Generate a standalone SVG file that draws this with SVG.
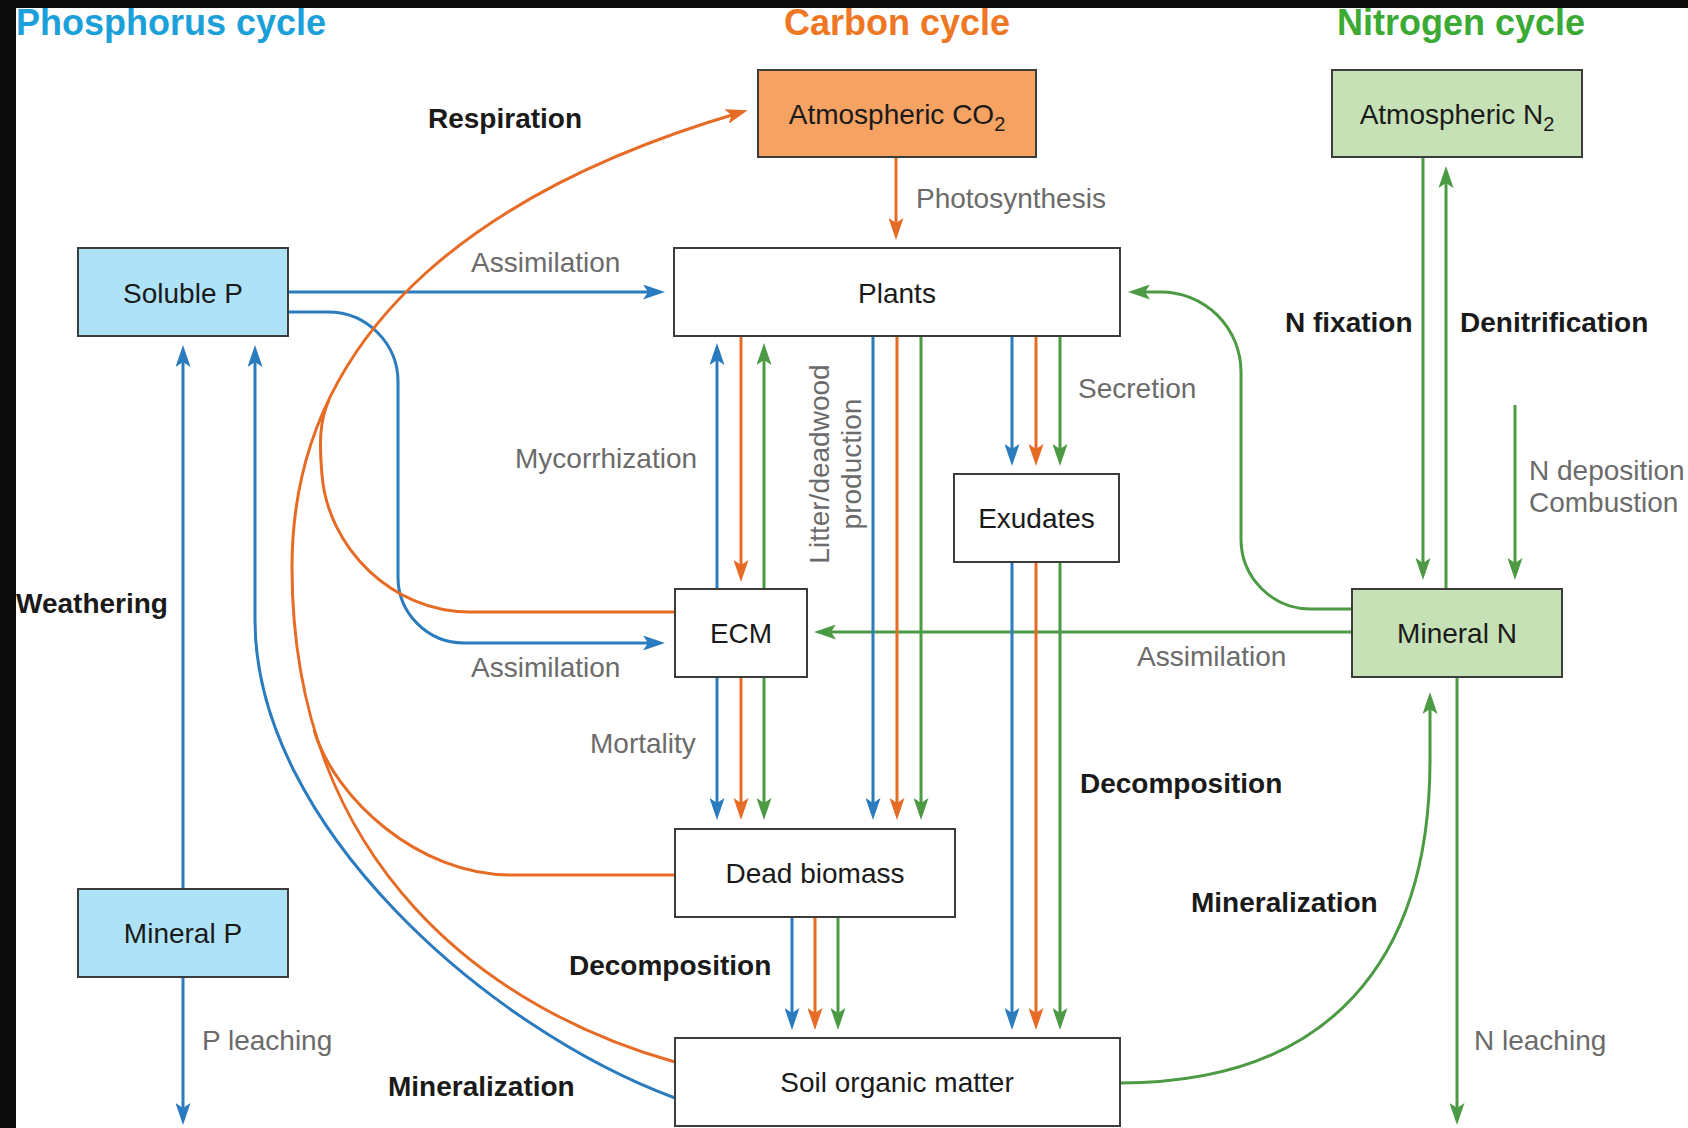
<svg xmlns="http://www.w3.org/2000/svg" width="1688" height="1128" viewBox="0 0 1688 1128">
<defs>
<style>
.box{stroke:#3c3c3c;stroke-width:2}
.lb{font-family:"Liberation Sans",Arial,sans-serif;font-size:28px;fill:#1a1a1a;text-anchor:middle}
.g{font-family:"Liberation Sans",Arial,sans-serif;font-size:28px;fill:#6b6b6b}
.k{font-family:"Liberation Sans",Arial,sans-serif;font-size:28px;font-weight:bold;fill:#1a1a1a}
.t{font-family:"Liberation Sans",Arial,sans-serif;font-size:36px;font-weight:bold}
.b{stroke:#2b7bbf;fill:none;stroke-width:3}
.o{stroke:#e66b25;fill:none;stroke-width:3}
.n{stroke:#4c9a43;fill:none;stroke-width:3}
.b.a{marker-end:url(#mb)}
.o.a{marker-end:url(#mo)}
.n.a{marker-end:url(#mn)}
</style>
<marker id="mb" viewBox="0 0 22 15" refX="16" refY="7.5" markerWidth="22" markerHeight="15" orient="auto" markerUnits="userSpaceOnUse"><path d="M0,0 L22,7.5 L0,15 L5,7.5 z" fill="#2b7bbf"/></marker>
<marker id="mo" viewBox="0 0 22 15" refX="16" refY="7.5" markerWidth="22" markerHeight="15" orient="auto" markerUnits="userSpaceOnUse"><path d="M0,0 L22,7.5 L0,15 L5,7.5 z" fill="#e66b25"/></marker>
<marker id="mn" viewBox="0 0 22 15" refX="16" refY="7.5" markerWidth="22" markerHeight="15" orient="auto" markerUnits="userSpaceOnUse"><path d="M0,0 L22,7.5 L0,15 L5,7.5 z" fill="#4c9a43"/></marker>
</defs>
<rect x="0" y="0" width="1688" height="1128" fill="#ffffff"/>
<rect x="0" y="0" width="1688" height="8" fill="#0c0c0c"/>
<rect x="0" y="0" width="16" height="1128" fill="#0c0c0c"/>

<g id="titles">
<text class="t" x="16" y="35" fill="#1ba0da">Phosphorus cycle</text>
<text class="t" x="897" y="35" fill="#ef7622" text-anchor="middle">Carbon cycle</text>
<text class="t" x="1461" y="35" fill="#3aaa35" text-anchor="middle">Nitrogen cycle</text>
</g>

<g id="connectors">
<!-- phosphorus -->
<path class="b a" d="M288,292 H659"/>
<path class="b a" d="M288,312 H328 A70,70 0 0 1 398,382 V577 A66,66 0 0 0 464,643 H659"/>
<path class="b a" d="M183,889 V351"/>
<path class="b a" d="M675,1098 C488,1029 255,825 255,620 V351"/>
<path class="b a" d="M183,977 V1119"/>
<!-- carbon -->
<path class="o a" d="M896,157 V234"/>
<path class="o a" d="M675,1062 C495,1011.6 292,870 292,567 C292,317 502,182 742,112"/>
<path class="o" d="M675,612 H470 C392,612 328,548 322,475 C319,440 320,420 329,400"/>
<path class="o" d="M675,875 H510 C420,875 335,800 314,730"/>
<!-- nitrogen -->
<path class="n a" d="M1352,609 H1311 A70,70 0 0 1 1241,539 V372 A80,80 0 0 0 1161,292 H1134"/>
<path class="n a" d="M1352,632 H820"/>
<path class="n a" d="M1423,157 V574"/>
<path class="n a" d="M1446,589 V172"/>
<path class="n a" d="M1515,405 V574"/>
<path class="n a" d="M1457,677 V1119"/>
<path class="n a" d="M1120,1083 C1330,1083 1430,960 1430,760 V698"/>
<!-- Mycorrhization -->
<path class="b a" d="M717,589 V349"/>
<path class="o a" d="M741,336 V576"/>
<path class="n a" d="M764,589 V349"/>
<!-- Mortality -->
<path class="b a" d="M717,677 V814"/>
<path class="o a" d="M741,677 V814"/>
<path class="n a" d="M764,677 V814"/>
<!-- Litter -->
<path class="b a" d="M873,336 V814"/>
<path class="o a" d="M897,336 V814"/>
<path class="n a" d="M921,336 V814"/>
<!-- Secretion -->
<path class="b a" d="M1012,336 V460"/>
<path class="o a" d="M1036,336 V460"/>
<path class="n a" d="M1060,336 V460"/>
<!-- Exudates decomposition -->
<path class="b a" d="M1012,562 V1024"/>
<path class="o a" d="M1036,562 V1024"/>
<path class="n a" d="M1060,562 V1024"/>
<!-- Dead biomass decomposition -->
<path class="b a" d="M792,917 V1024"/>
<path class="o a" d="M815,917 V1024"/>
<path class="n a" d="M838,917 V1024"/>
</g>

<g id="labels">
<text class="k" x="428" y="128">Respiration</text>
<text class="g" x="916" y="208">Photosynthesis</text>
<text class="g" x="471" y="272">Assimilation</text>
<text class="g" x="515" y="468">Mycorrhization</text>
<text class="g" x="471" y="677">Assimilation</text>
<text class="g" x="590" y="753">Mortality</text>
<text class="g" x="1078" y="398">Secretion</text>
<text class="g" x="1137" y="666">Assimilation</text>
<text class="g" transform="translate(829,464) rotate(-90)" text-anchor="middle" font-size="30">Litter/deadwood</text>
<text class="g" transform="translate(861,464) rotate(-90)" text-anchor="middle" font-size="30">production</text>
<text class="k" x="16" y="613">Weathering</text>
<text class="g" x="202" y="1050">P leaching</text>
<text class="k" x="388" y="1096">Mineralization</text>
<text class="k" x="569" y="975">Decomposition</text>
<text class="k" x="1080" y="793">Decomposition</text>
<text class="k" x="1191" y="912">Mineralization</text>
<text class="k" x="1285" y="332">N fixation</text>
<text class="k" x="1460" y="332">Denitrification</text>
<text class="g" x="1529" y="480">N deposition</text>
<text class="g" x="1529" y="512">Combustion</text>
<text class="g" x="1474" y="1050">N leaching</text>
</g>

<g id="atm-co2"><rect class="box" x="758" y="70" width="278" height="87" fill="#f6a263"/><text class="lb" x="897" y="124">Atmospheric CO<tspan dy="7" font-size="20">2</tspan></text></g>
<g id="atm-n2"><rect class="box" x="1332" y="70" width="250" height="87" fill="#c6e1b6"/><text class="lb" x="1457" y="124">Atmospheric N<tspan dy="7" font-size="20">2</tspan></text></g>
<g id="soluble-p"><rect class="box" x="78" y="248" width="210" height="88" fill="#aee3f7"/><text class="lb" x="183" y="303">Soluble P</text></g>
<g id="plants"><rect class="box" x="674" y="248" width="446" height="88" fill="#ffffff"/><text class="lb" x="897" y="303">Plants</text></g>
<g id="exudates"><rect class="box" x="954" y="474" width="165" height="88" fill="#ffffff"/><text class="lb" x="1036.5" y="528">Exudates</text></g>
<g id="ecm"><rect class="box" x="675" y="589" width="132" height="88" fill="#ffffff"/><text class="lb" x="741" y="643">ECM</text></g>
<g id="mineral-n"><rect class="box" x="1352" y="589" width="210" height="88" fill="#c6e1b6"/><text class="lb" x="1457" y="643">Mineral N</text></g>
<g id="dead-biomass"><rect class="box" x="675" y="829" width="280" height="88" fill="#ffffff"/><text class="lb" x="815" y="883">Dead biomass</text></g>
<g id="mineral-p"><rect class="box" x="78" y="889" width="210" height="88" fill="#aee3f7"/><text class="lb" x="183" y="943">Mineral P</text></g>
<g id="soil-organic-matter"><rect class="box" x="675" y="1038" width="445" height="88" fill="#ffffff"/><text class="lb" x="897" y="1092">Soil organic matter</text></g>
</svg>
